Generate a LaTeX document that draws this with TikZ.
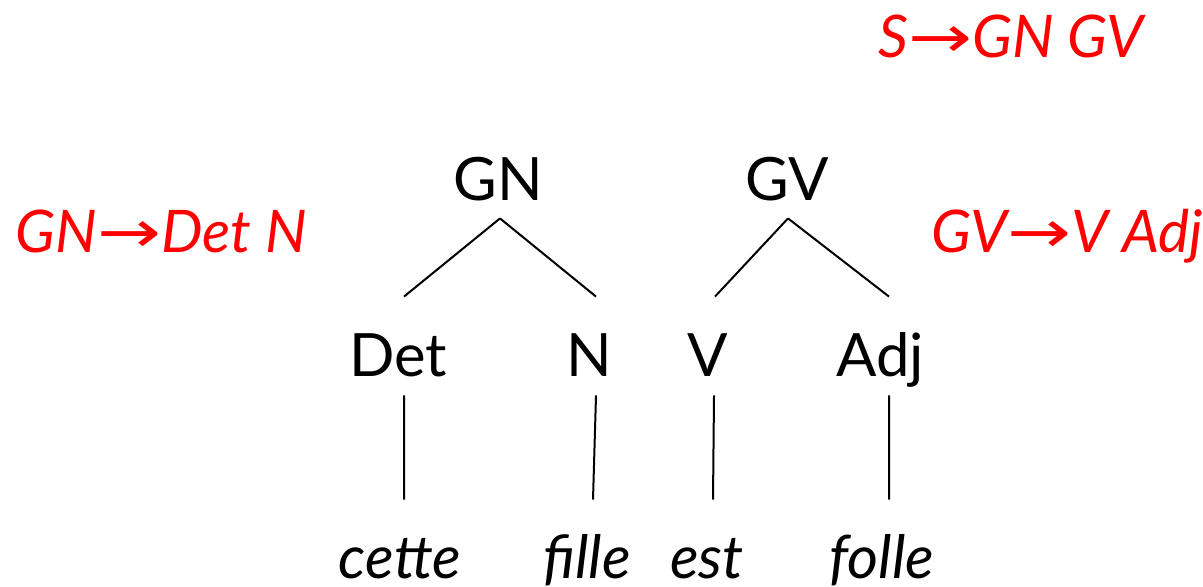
\documentclass[tikz,border=0pt]{standalone}
\usepackage{fontspec}
\setmainfont{Lato}
\newfontfamily\arrowfont{DejaVu Sans}
\newcommand{\rulearrow}{\scalebox{1.3}[1]{\arrowfont\upshape →}}

\begin{document}
\begin{tikzpicture}[x=0.5bp, y=-0.5bp,
    cat/.style={inner sep=0pt, anchor=base, font=\fontsize{30}{32}\selectfont, text height=20bp, text depth=0pt},
    word/.style={cat, font=\fontsize{30}{32}\selectfont\itshape},
    rule/.style={inner sep=0pt, anchor=base, text=red, font=\fontsize{29.5}{31}\selectfont\itshape},
    branch/.style={line width=1bp}]
    \useasboundingbox (0, 0) rectangle (1203, 587);

    % categories
    \node[cat] (GN) at (498, 200) {GN};
    \node[cat] (GV) at (787, 200) {GV};

    \node[cat] (Det) at (398, 376) {Det};
    \node[cat] (N) at (589, 376) {N};
    \node[cat] (V) at (708, 376) {V};
    \node[cat] (Adj) at (880, 376) {Adj};

    % words
    \node[word] (cette) at (400, 578) {cette};
    \node[word] (fille) at (587, 578) {fille};
    \node[word] (est) at (707, 578) {est};
    \node[word] (folle) at (882, 578) {folle};

    % rules
    \node[rule] (rS) at (1011, 58) {S\rulearrow GN GV};
    \node[rule] (rGN) at (161, 252) {GN\rulearrow Det N};
    \node[rule] (rGV) at (1067, 252) {GV\rulearrow V Adj};

    % branches
    \draw[branch] ([xshift=1bp, yshift=-9bp]GN.south) -- ([xshift=3bp, yshift=19.5bp]Det.north);
    \draw[branch] ([xshift=1bp, yshift=-9bp]GN.south) -- ([xshift=3.5bp, yshift=19.5bp]N.north);
    \draw[branch] ([xshift=0.5bp, yshift=-9bp]GV.south) -- ([xshift=3.5bp, yshift=19.5bp]V.north);
    \draw[branch] ([xshift=0.5bp, yshift=-9bp]GV.south) -- ([xshift=4.5bp, yshift=19.5bp]Adj.north);

    \draw[branch] ([xshift=3bp, yshift=-9.5bp]Det.south) -- ([xshift=2bp, yshift=19bp]cette.north);
    \draw[branch] ([xshift=3.5bp, yshift=-9.5bp]N.south) -- ([xshift=3bp, yshift=19bp]fille.north);
    \draw[branch] ([xshift=3bp, yshift=-9.5bp]V.south) -- ([xshift=3bp, yshift=19bp]est.north);
    \draw[branch] ([xshift=4.5bp, yshift=-9.5bp]Adj.south) -- ([xshift=3.5bp, yshift=19bp]folle.north);
\end{tikzpicture}
\end{document}
